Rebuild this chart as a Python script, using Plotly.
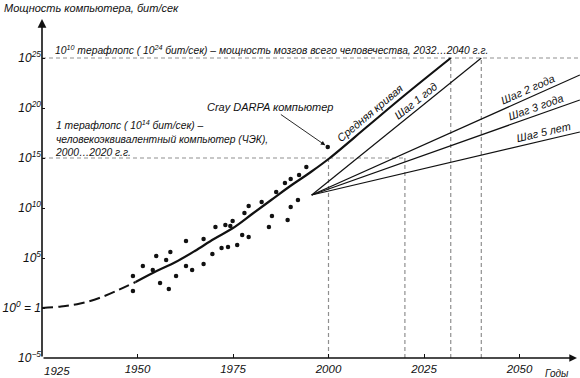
import math
import plotly.graph_objects as go

# ---------------- data (y values are exponents: log10 of bit/s) ----------------
curve_years = [1925, 1930, 1935, 1940, 1945, 1949.5, 1955, 1960, 1965, 1970,
               1975, 1980, 1985, 1990, 1995, 2000, 2010, 2020, 2032]
curve_exp = [0.0, 0.15, 0.45, 1.0, 1.8, 2.6, 3.7, 4.6, 5.7, 6.9,
             8.0, 9.4, 10.8, 12.2, 13.5, 14.9, 18.1, 21.3, 25.0]
dashed_until = 1949.5

computer_years = [1948.8, 1948.8, 1951.4, 1954.0, 1954.9, 1955.9, 1957.5, 1958.2,
                  1958.6, 1960.1, 1962.7, 1962.7, 1964.3, 1967.3, 1967.3, 1969.6,
                  1970.4, 1972.0, 1973.0, 1973.7, 1974.3, 1974.9, 1976.1, 1977.4,
                  1979.1, 1978.0, 1979.1, 1982.5, 1984.4, 1985.2, 1986.3, 1988.6,
                  1989.3, 1990.1, 1990.1, 1992.0, 1992.3, 1994.2]
computer_exp = [3.2, 1.7, 4.2, 3.8, 5.2, 2.5, 4.8, 1.9,
                5.6, 3.2, 6.7, 4.2, 3.8, 6.9, 4.4, 5.4,
                8.1, 6.0, 8.3, 6.1, 8.2, 8.7, 6.3, 7.3,
                7.1, 9.5, 10.2, 10.6, 8.1, 9.2, 11.6, 12.5,
                8.8, 10.1, 12.9, 10.8, 13.3, 14.1]

cray_year = 1999.8
cray_exp = 16.1

step_start_year = 1995.6
step_start_exp = 11.3
step_labels = ["Шаг 1 год", "Шаг 2 года", "Шаг 3 года", "Шаг 5 лет"]
step_end_years = [2040, 2065.8, 2065.8, 2065.8]
step_end_exp = [25.0, 23.3, 20.8, 17.6]

# reference levels
ref_years = [2000, 2020, 2032, 2040]
ref_levels = [15, 15, 25, 25]
level_lines = [(15, 2020), (25, None)]

x_ticks = [1925, 1950, 1975, 2000, 2025, 2050]
x_ticktext = ["1925", "1950", "1975", "2000", "2025", "2050"]
y_ticks = [-5, 0, 5, 10, 15, 20, 25]
y_ticktext = ["10<sup>\u22125</sup>", "10<sup>0</sup> = 1", "10<sup>5</sup>",
              "10<sup>10</sup>", "10<sup>15</sup>", "10<sup>20</sup>", "10<sup>25</sup>"]

# ---------------- geometry ----------------
W, H = 580, 378
ML, MR, MT, MB = 42, 0, 0, 20
PX_PER_YEAR = 3.82
PX_PER_DEC = 10.0
x0 = 1925
x1 = x0 + (W - ML - MR) / PX_PER_YEAR
y0 = -5
y1 = y0 + (H - MT - MB) / PX_PER_DEC

FONT = "Liberation Sans"
BLACK = "#111111"
GRAY = "#8f8f8f"

fig = go.Figure()

# average curve (dashed early part + solid)
dx = [x for x in curve_years if x <= dashed_until]
dy = [y for x, y in zip(curve_years, curve_exp) if x <= dashed_until]
sx = [x for x in curve_years if x >= dashed_until]
sy = [y for x, y in zip(curve_years, curve_exp) if x >= dashed_until]
fig.add_trace(go.Scatter(x=dx, y=dy, mode="lines", line=dict(color=BLACK, width=2, dash="11px,5px", shape="spline"),
                         hoverinfo="skip"))
fig.add_trace(go.Scatter(x=sx, y=sy, mode="lines", line=dict(color=BLACK, width=2.2, shape="spline"),
                         hoverinfo="skip"))

# step lines
for ex, ey in zip(step_end_years, step_end_exp):
    fig.add_trace(go.Scatter(x=[step_start_year, ex], y=[step_start_exp, ey], mode="lines",
                             line=dict(color=BLACK, width=1.2), hoverinfo="skip"))

# computers
fig.add_trace(go.Scatter(x=computer_years, y=computer_exp, mode="markers",
                         marker=dict(color=BLACK, size=4.5), hoverinfo="skip"))
fig.add_trace(go.Scatter(x=[cray_year], y=[cray_exp], mode="markers",
                         marker=dict(color=BLACK, size=4.5), hoverinfo="skip"))

# dashed reference lines
shapes = []
for yr, lv in zip(ref_years, ref_levels):
    shapes.append(dict(type="line", xref="x", yref="y", x0=yr, x1=yr, y0=y0, y1=lv,
                       line=dict(color=GRAY, width=1.2, dash="4px,3px"), layer="below"))
for lv, end in level_lines:
    shapes.append(dict(type="line", xref="x", yref="y", x0=x0, x1=(end if end else x1), y0=lv, y1=lv,
                       line=dict(color=GRAY, width=1.2, dash="4px,3px"), layer="below"))

ann = []
tfont = dict(family=FONT, size=11, color=BLACK, style="italic")
sfont = dict(family=FONT, size=10.3, color=BLACK, style="italic")
xtfont = dict(family=FONT, size=11.5, color=BLACK, style="italic")

# axes arrows
ann.append(dict(x=x0, y=28.9, ax=x0, ay=y0, xref="x", yref="y", axref="x", ayref="y",
                showarrow=True, arrowhead=2, arrowsize=1.1, arrowwidth=1.6, arrowcolor=BLACK, text=""))
ann.append(dict(x=x0 + (577 - ML) / PX_PER_YEAR, y=y0, ax=x0, ay=y0, xref="x", yref="y", axref="x", ayref="y",
                showarrow=True, arrowhead=2, arrowsize=1.1, arrowwidth=1.4, arrowcolor=BLACK, text=""))

# first x tick label sits to the right of the axis corner
ann.append(dict(x=x_ticks[0], y=0, xref="x", yref="paper", xanchor="left", yanchor="middle",
                xshift=0, yshift=-13, showarrow=False, font=xtfont, text=x_ticktext[0]))
axis_ticktext = [""] + x_ticktext[1:]


def label_on(xv, yv, slope_dec_per_year, text, off=8.5):
    ang = -math.degrees(math.atan(slope_dec_per_year * PX_PER_DEC / PX_PER_YEAR))
    a = math.radians(ang)
    ann.append(dict(x=xv, y=yv, xref="x", yref="y", text=text, showarrow=False, textangle=ang,
                    xshift=off * math.sin(a), yshift=off * math.cos(a), font=tfont))


# curve label
i = curve_years.index(2010)
slope = (curve_exp[i + 1] - curve_exp[i]) / (curve_years[i + 1] - curve_years[i])
lx = 2012.3
label_on(lx, curve_exp[i] + slope * (lx - curve_years[i]), slope, "Средняя кривая")

# step labels
label_years = [2024.1, 2053.2, 2055.0, 2056.8]
for lab, ex, ey, lyr in zip(step_labels, step_end_years, step_end_exp, label_years):
    s = (ey - step_start_exp) / (ex - step_start_year)
    label_on(lyr, step_start_exp + s * (lyr - step_start_year), s, lab, off=8)

# texts
ann.append(dict(x=0, y=1, xref="paper", yref="paper", xanchor="left", yanchor="middle",
                xshift=-40, yshift=-8, showarrow=False, font=tfont,
                text="Мощность компьютера, бит/сек"))
ann.append(dict(x=x0 + (53 - ML) / PX_PER_YEAR, y=25.9, xref="x", yref="y", xanchor="left", yanchor="middle",
                showarrow=False, font=sfont,
                text="10<sup>10</sup> терафлопс ( 10<sup>24</sup> бит/сек) – мощность мозгов всего человечества, 2032…2040 г.г."))
ann.append(dict(x=x0 + (53 - ML) / PX_PER_YEAR, y=17.0, xref="x", yref="y", xanchor="left", yanchor="middle",
                align="left", showarrow=False, font=sfont,
                text="1 терафлопс ( 10<sup>14</sup> бит/сек) –<br>человекоэквивалентный компьютер (ЧЭК),<br>2000…2020 г.г."))
ann.append(dict(x=cray_year, y=cray_exp, ax=1984.7, ay=20.1, xref="x", yref="y", axref="x", ayref="y",
                showarrow=True, arrowhead=2, arrowsize=1, arrowwidth=0.9, arrowcolor=BLACK, standoff=3,
                text="Cray DARPA компьютер", font=tfont))
ann.append(dict(x=x0 + (557 - ML) / PX_PER_YEAR, y=0, xref="x", yref="paper", yanchor="middle",
                yshift=-15, showarrow=False, font=dict(family=FONT, size=10, color=BLACK, style="italic"),
                text="Годы"))

fig.update_layout(
    width=W, height=H, margin=dict(l=ML, r=MR, t=MT, b=MB, autoexpand=False),
    paper_bgcolor="white", plot_bgcolor="white", showlegend=False,
    shapes=shapes, annotations=ann,
    font=dict(family=FONT, color=BLACK),
    xaxis=dict(range=[x0, x1], showgrid=False, zeroline=False, showline=False,
               tickvals=x_ticks, ticktext=axis_ticktext, ticks="inside", ticklen=4, tickwidth=1,
               tickcolor=BLACK, tickfont=xtfont,
               ticklabelstandoff=2, automargin=False, fixedrange=True),
    yaxis=dict(range=[y0, y1], showgrid=False, zeroline=False, showline=False,
               tickvals=y_ticks, ticktext=y_ticktext, ticks="inside", ticklen=3, tickwidth=1,
               tickcolor=BLACK, tickfont=dict(family=FONT, size=12, color=BLACK, style="italic"),
               automargin=False, fixedrange=True),
)

fig.write_html("out.html", config={"displayModeBar": False},
               post_script="document.body.style.margin='0px';document.body.style.padding='0px';")
